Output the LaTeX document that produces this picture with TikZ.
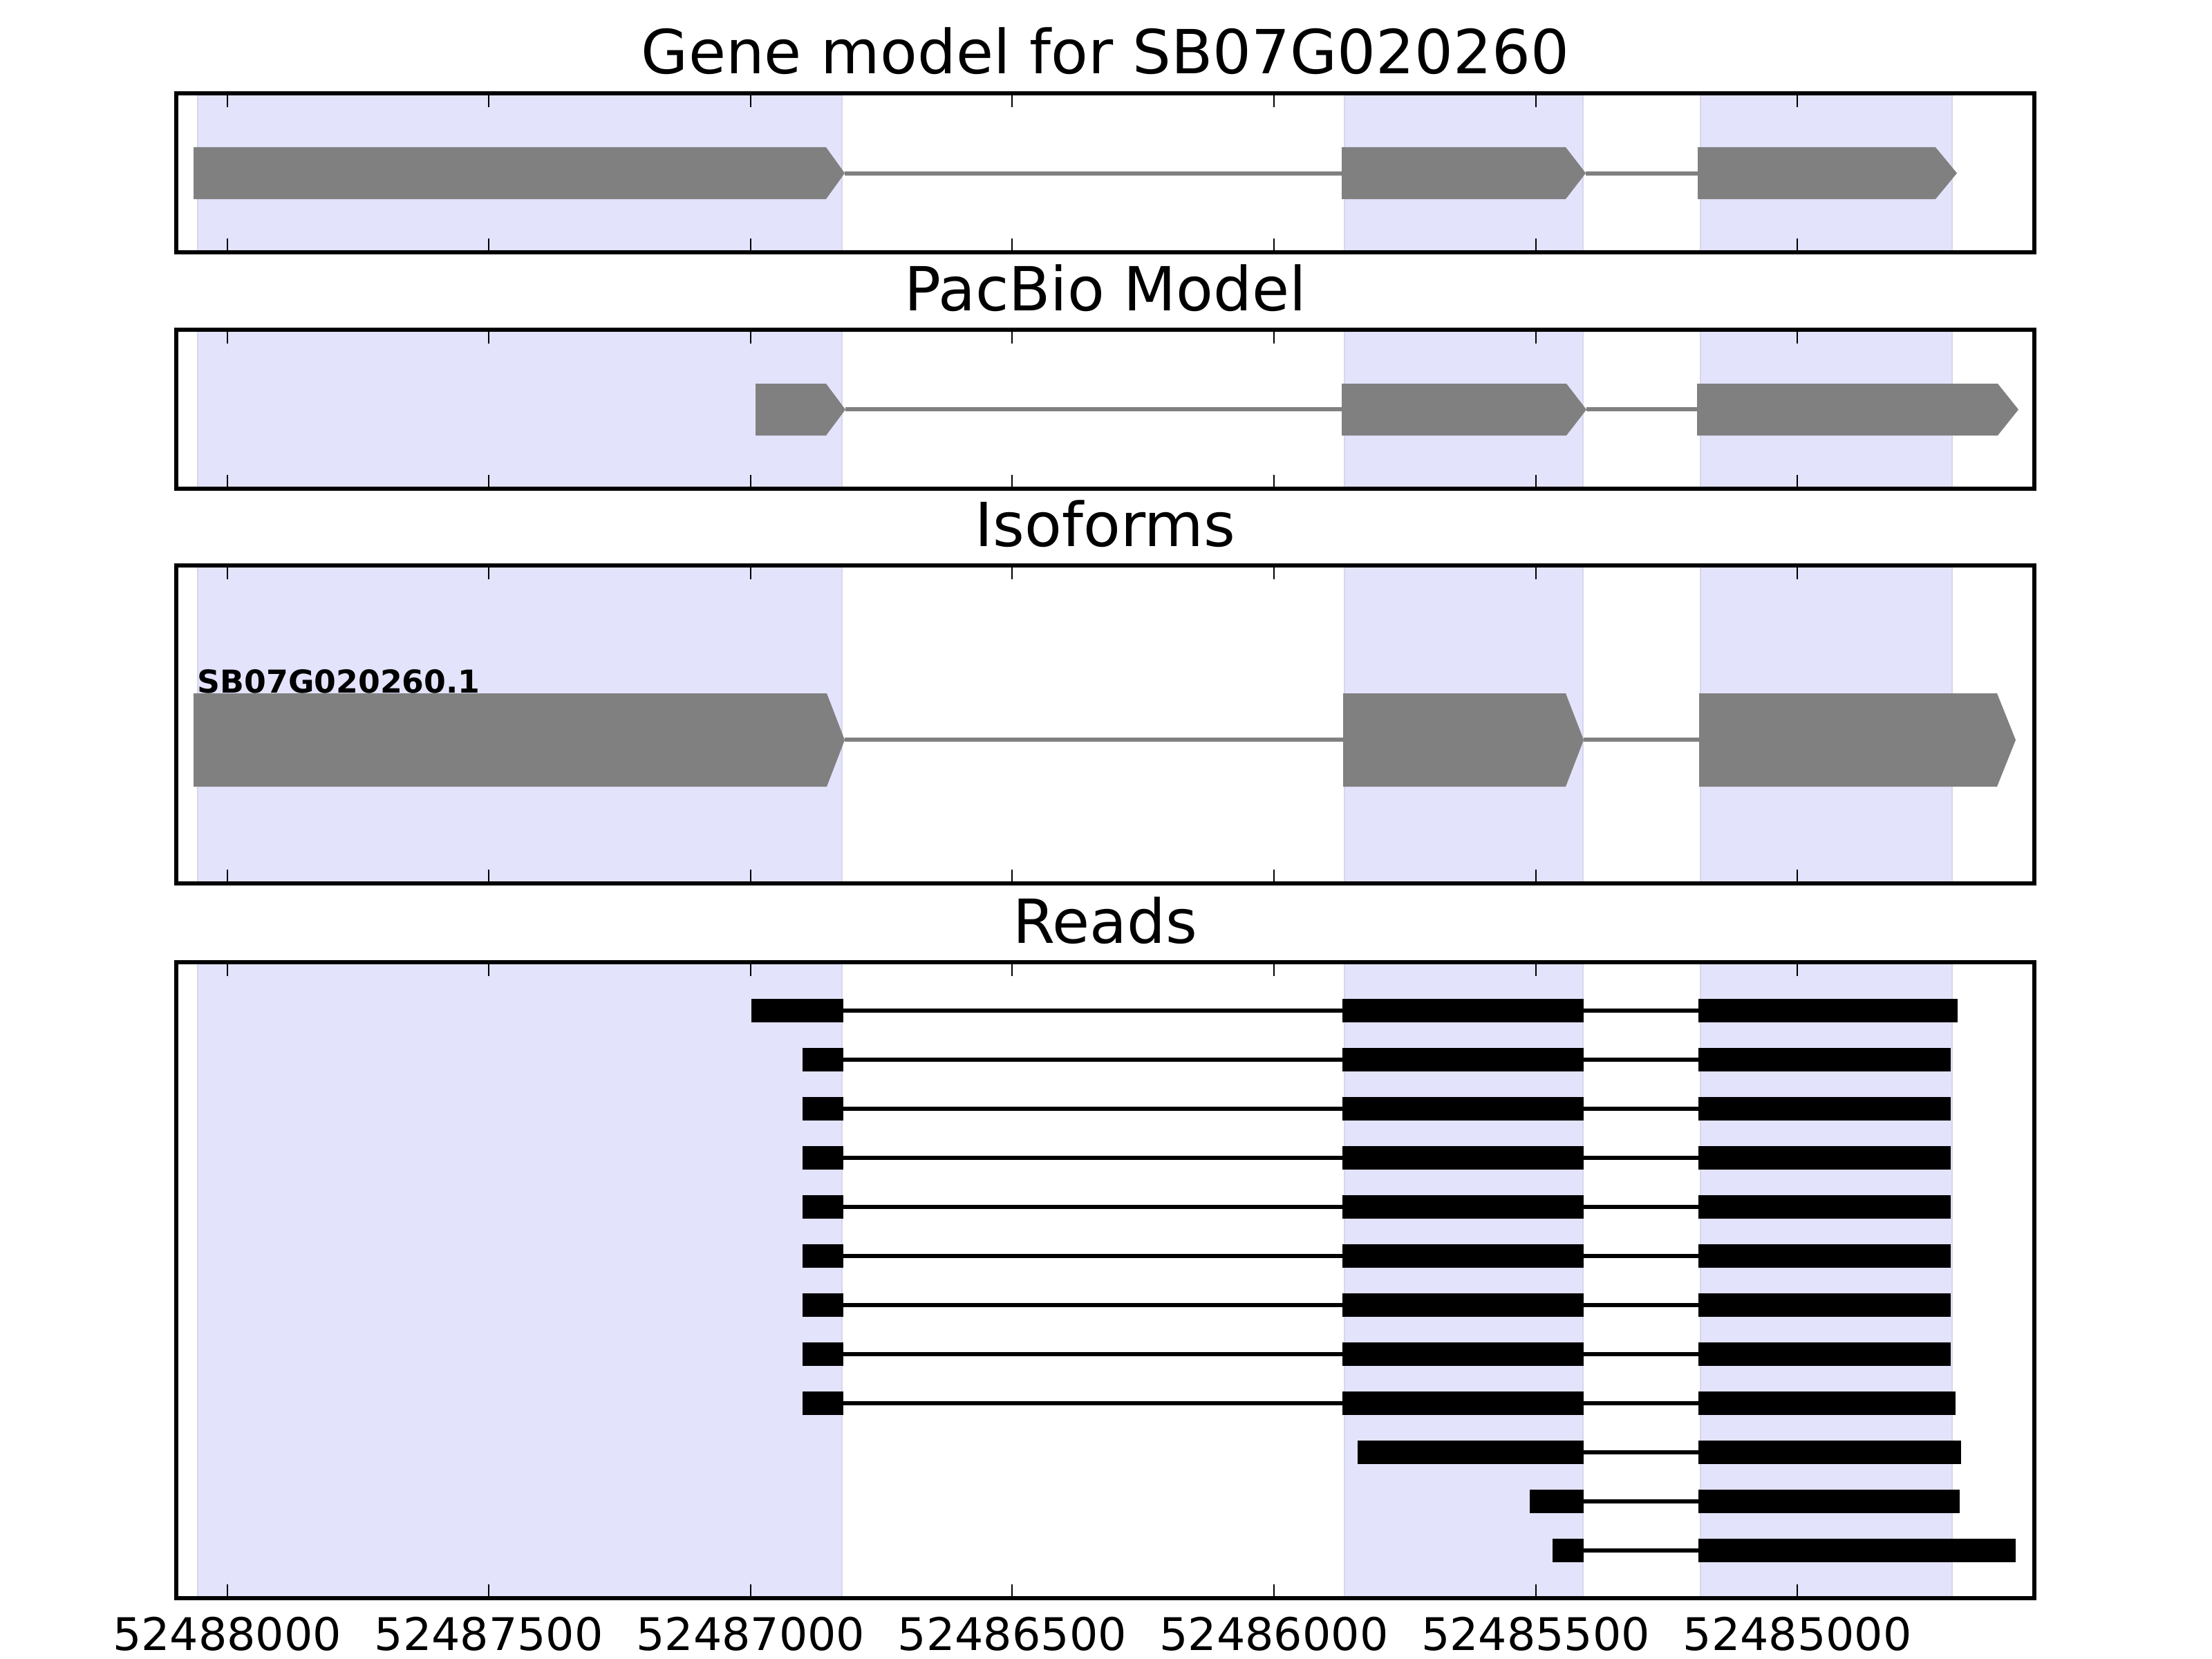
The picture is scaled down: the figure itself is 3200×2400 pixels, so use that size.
\documentclass[tikz,border=0pt]{standalone}
\usepackage{fontspec}
\setmainfont{DejaVu Sans}
\definecolor{exongray}{RGB}{128,128,128}
\definecolor{shadefill}{RGB}{227,227,252}
\definecolor{shadeedge}{RGB}{214,214,236}
\newcommand\exonarrow[5]{\fill[exonfill] (#1,#4) -- (#2,#4) -- (#3,{(#4+#5)/2}) -- (#2,#5) -- (#1,#5) -- cycle;}
\newcommand\shadespans[2]{%
  \foreach \sa/\sb in {286/1218,1945/2290,2460/2824}{
    \filldraw[shadebox] (\sa,#1) rectangle (\sb,#2);
  }}
\newcommand\tickmarks[2]{%
  \foreach \tx in {328.6,707.2,1085.8,1464.4,1843,2221.6,2600.2}{
    \draw[tickmark] (\tx,#1) -- (\tx,{#1+20});
    \draw[tickmark] (\tx,#2) -- (\tx,{#2-20});
  }}
\begin{document}
\begin{tikzpicture}[x=0.01cm,y=-0.01cm,
  exonfill/.style={fill=exongray},
  intron/.style={draw=exongray,line width=1.7pt},
  readfill/.style={fill=black},
  readline/.style={draw=black,line width=1.6pt},
  shadebox/.style={fill=shadefill,draw=shadeedge,line width=0.45pt},
  tickmark/.style={draw=black,line width=0.6pt},
  frame/.style={draw=black,line width=1.45pt},
  paneltitle/.style={anchor=base,inner sep=0pt,font=\fontsize{25}{30}\selectfont},
  ticklabel/.style={anchor=base,inner sep=0pt,font=\fontsize{18.5}{22}\selectfont},
  isolabel/.style={anchor=base west,inner sep=0pt,font=\bfseries\fontsize{13}{15}\selectfont}]
\useasboundingbox (0,0) rectangle (3200,2400);
\fill[white] (0,0) rectangle (3200,2400);

% ---------- Panel 1: Gene model ----------
\shadespans{135}{365}
\draw[intron] (1222,251) -- (1941,251);
\draw[intron] (2294,251) -- (2456,251);
\exonarrow{280}{1195}{1222}{213}{288}
\exonarrow{1941}{2265}{2294}{213}{288}
\exonarrow{2456}{2800}{2831}{213}{288}
\tickmarks{135}{365}
\draw[frame] (255,135) rectangle (2943,365);
\node[paneltitle] (title1) at (1599,107) {Gene model for SB07G020260};

% ---------- Panel 2: PacBio Model ----------
\shadespans{477}{707}
\draw[intron] (1223,592) -- (1941,592);
\draw[intron] (2295,592) -- (2455,592);
\exonarrow{1093}{1195}{1223}{555}{630}
\exonarrow{1941}{2266}{2295}{555}{630}
\exonarrow{2455}{2890}{2920}{555}{630}
\tickmarks{477}{707}
\draw[frame] (255,477) rectangle (2943,707);
\node[paneltitle] (title2) at (1599,449) {PacBio Model};

% ---------- Panel 3: Isoforms ----------
\shadespans{818}{1278}
\draw[intron] (1222,1070) -- (1943,1070);
\draw[intron] (2291,1070) -- (2458,1070);
\exonarrow{280}{1196}{1222}{1003}{1138}
\exonarrow{1943}{2265}{2291}{1003}{1138}
\exonarrow{2458}{2889}{2916}{1003}{1138}
\node[isolabel] (isoname) at (285,1002) {SB07G020260.1};
\tickmarks{818}{1278}
\draw[frame] (255,818) rectangle (2943,1278);
\node[paneltitle] (title3) at (1599,790) {Isoforms};

% ---------- Panel 4: Reads ----------
\shadespans{1392}{2312}
\foreach \yy/\a/\c in {1462/1087/2832,1533/1161/2822,1604/1161/2822,1675/1161/2822,1746/1161/2822,1817/1161/2822,1888/1161/2822,1959/1161/2822,2030/1161/2829}{
  \draw[readline] (1220,\yy) -- (2457,\yy);
  \fill[readfill] (\a,{\yy-17}) rectangle (1220,{\yy+17});
  \fill[readfill] (1942,{\yy-17}) rectangle (2291,{\yy+17});
  \fill[readfill] (2457,{\yy-17}) rectangle (\c,{\yy+17});
}
\foreach \yy/\b/\c in {2101/1964/2837,2172/2213/2835,2243/2246/2916}{
  \draw[readline] (2291,\yy) -- (2457,\yy);
  \fill[readfill] (\b,{\yy-17}) rectangle (2291,{\yy+17});
  \fill[readfill] (2457,{\yy-17}) rectangle (\c,{\yy+17});
}
\tickmarks{1392}{2312}
\draw[frame] (255,1392) rectangle (2943,2312);
\node[paneltitle] (title4) at (1599,1364) {Reads};

% ---------- x tick labels ----------
\foreach \tx/\tl in {328.6/52488000,707.2/52487500,1085.8/52487000,1464.4/52486500,1843/52486000,2221.6/52485500,2600.2/52485000}{
  \node[ticklabel] (lab\tl) at (\tx,2387) {\tl};
}
\end{tikzpicture}
\end{document}
